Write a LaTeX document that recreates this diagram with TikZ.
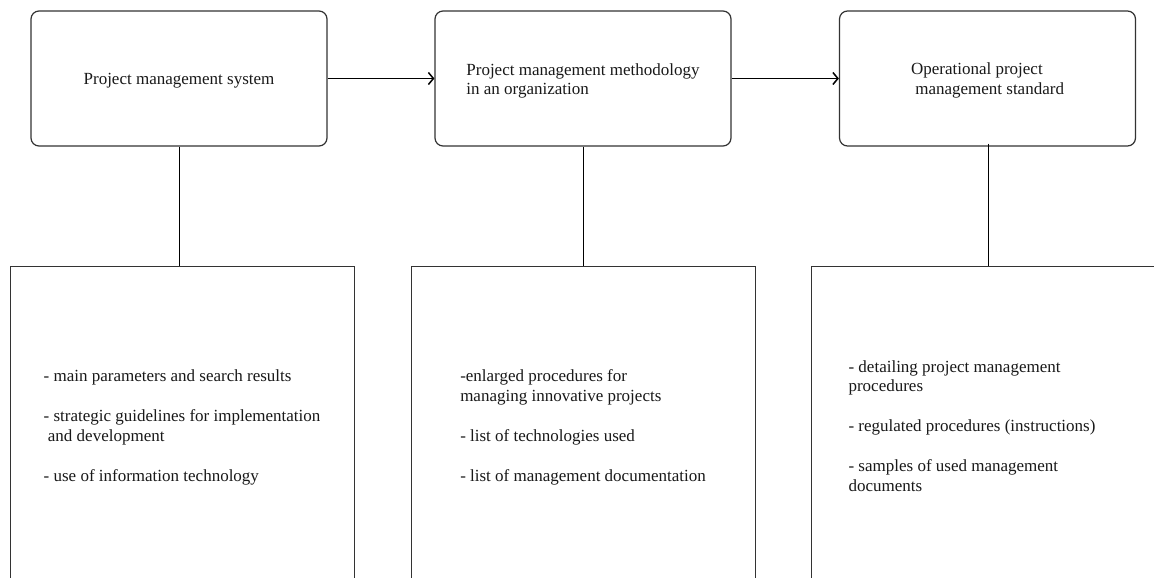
\documentclass[tikz,border=0pt]{standalone}
\usepackage{fontspec}
\setmainfont{Liberation Serif}
\usetikzlibrary{arrows.meta}
\begin{document}
\begin{tikzpicture}[x=1pt,y=-1pt,
  every node/.style={font=\fontsize{17pt}{19.5pt}\selectfont, text=black!90},
  topbox/.style={draw=black!80, line width=1.2pt, rounded corners=8pt,
    minimum width=296pt, minimum height=135pt, inner sep=0pt},
  botbox/.style={draw=black!80, line width=1pt,
    minimum width=344pt, minimum height=317pt, inner sep=0pt},
  boxtext/.style={align=left, inner sep=0pt},
  flow/.style={draw=black, line width=1.7pt, -{Straight Barb[length=5pt,width=12pt,line width=1.5pt]}},
  link/.style={draw=black, line width=1pt}]
\useasboundingbox (0,0) rectangle (1154,578);
\fill[white] (0,0) rectangle (1154,578);
\clip (0,0) rectangle (1154,578);

\node[topbox] (t1) at (179,78.5) {};
\node[topbox] (t2) at (583,78.5) {};
\node[topbox] (t3) at (987.5,78.5) {};
\node[boxtext] (t1text) at ([yshift=-2.5pt]t1.center) {Project management system};
\node[boxtext] (t2text) at ([yshift=-2.5pt]t2.center) {Project management methodology\\in an organization};
\node[boxtext] (t3text) at ([yshift=-2pt]t3.center) {Operational project\\\hspace*{4.25pt}management standard};

\node[botbox] (b1) at (182,424.5) {};
\node[botbox] (b2) at (583,424.5) {};
\node[botbox] (b3) at (983,424.5) {};
\node[boxtext] (b1text) at ([yshift=-3pt]b1.center) {- main parameters and search results\\[20.5pt]
- strategic guidelines for implementation\\
\hspace*{4.25pt}and development\\[20.5pt]
- use of information technology};
\node[boxtext] (b2text) at ([yshift=-3pt]b2.center) {-enlarged procedures for\\
managing innovative projects\\[20.5pt]
- list of technologies used\\[20.5pt]
- list of management documentation};
\node[boxtext] (b3text) at ([xshift=-11pt,yshift=-1.5pt]b3.center) {- detailing project management\\
procedures\\[20.5pt]
- regulated procedures (instructions)\\[20.5pt]
- samples of used management\\
documents};

\draw[flow] (t1) -- (t2);
\draw[flow] (t2) -- (t3);
\draw[link] (t1.south) -- (t1.south |- b1.north);
\draw[link] (t2.south) -- (t2.south |- b2.north);
\draw[link] ([xshift=0.5pt,yshift=3pt]t3.south) -- ([xshift=0.5pt]t3.south |- b3.north);
\end{tikzpicture}
\end{document}
